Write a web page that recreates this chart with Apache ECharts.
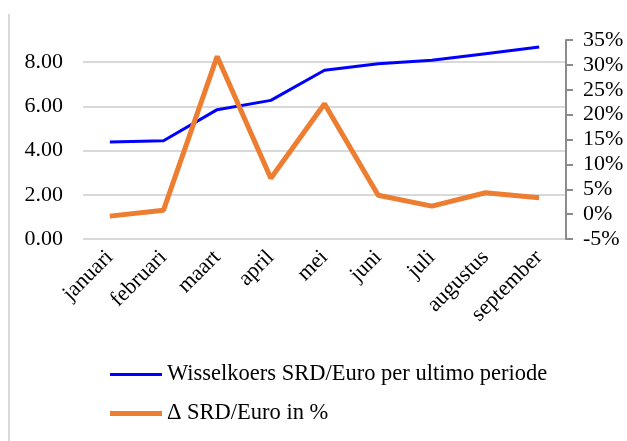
<!DOCTYPE html>
<html>
<head>
<meta charset="utf-8">
<script src="https://cdn.jsdelivr.net/npm/echarts@6/dist/echarts.min.js"></script>
<style>
  html, body { margin: 0; padding: 0; background: #fff; }
  #chart { width: 627px; height: 441px; }
</style>
</head>
<body>
<div id="chart"></div>
<script>
const months = ['januari', 'februari', 'maart', 'april', 'mei', 'juni', 'juli', 'augustus', 'september'];
const koers = [4.39, 4.44, 5.85, 6.27, 7.63, 7.93, 8.08, 8.38, 8.68];
const delta = [-0.4, 0.8, 31.7, 7.2, 22.2, 3.8, 1.6, 4.3, 3.3];

const font = 'Liberation Serif';
const chart = echarts.init(document.getElementById('chart'));

chart.setOption({
  animation: false,
  textStyle: { fontFamily: font, color: '#000' },
  graphic: [
    {
      type: 'line',
      shape: { x1: 9, y1: 14, x2: 9, y2: 441 },
      style: { stroke: '#d9d9d9', lineWidth: 2 }
    }
  ],
  grid: { left: 83, right: 61, top: 40, bottom: 202, containLabel: false },
  legend: {
    orient: 'vertical',
    left: 105,
    top: 358,
    itemWidth: 52,
    itemHeight: 14,
    itemGap: 16,
    textStyle: { fontFamily: font, fontSize: 22.5, color: '#000' },
    data: [
      { name: 'Wisselkoers SRD/Euro per ultimo periode', icon: 'path://M0,0L52,0L52,3L0,3Z' },
      { name: 'Δ SRD/Euro in %', icon: 'path://M0,0L52,0L52,5L0,5Z' }
    ]
  },
  xAxis: {
    type: 'category',
    data: months,
    axisLine: { show: false },
    axisTick: { show: false },
    axisLabel: { rotate: 45, margin: 15, fontSize: 22, fontFamily: font, color: '#000' }
  },
  yAxis: [
    {
      type: 'value',
      min: 0,
      max: 9,
      interval: 2,
      axisLine: { show: false },
      axisTick: { show: false },
      axisLabel: {
        showMaxLabel: false,
        margin: 20,
        fontSize: 22,
        fontFamily: font,
        color: '#000',
        formatter: v => v.toFixed(2)
      },
      splitLine: {
        lineStyle: {
          color: ['#d9d9d9', '#d9d9d9', '#d9d9d9', '#d9d9d9', '#d9d9d9', 'rgba(0,0,0,0)'],
          width: 2
        }
      }
    },
    {
      type: 'value',
      min: -5,
      max: 35,
      interval: 5,
      position: 'right',
      axisLine: { show: true, lineStyle: { color: '#8c8c8c', width: 2 } },
      axisTick: { show: true, length: 7, lineStyle: { color: '#8c8c8c', width: 2 } },
      axisLabel: {
        margin: 17,
        fontSize: 22,
        fontFamily: font,
        color: '#000',
        formatter: '{value}%'
      },
      splitLine: { show: false }
    }
  ],
  series: [
    {
      name: 'Wisselkoers SRD/Euro per ultimo periode',
      type: 'line',
      yAxisIndex: 0,
      data: koers,
      symbol: 'none',
      clip: false,
      lineStyle: { color: '#0000ff', width: 3 },
      itemStyle: { color: '#0000ff' }
    },
    {
      name: 'Δ SRD/Euro in %',
      type: 'line',
      yAxisIndex: 1,
      data: delta,
      symbol: 'none',
      clip: false,
      lineStyle: { color: '#ed7d31', width: 5 },
      itemStyle: { color: '#ed7d31' }
    }
  ]
});
</script>
</body>
</html>
